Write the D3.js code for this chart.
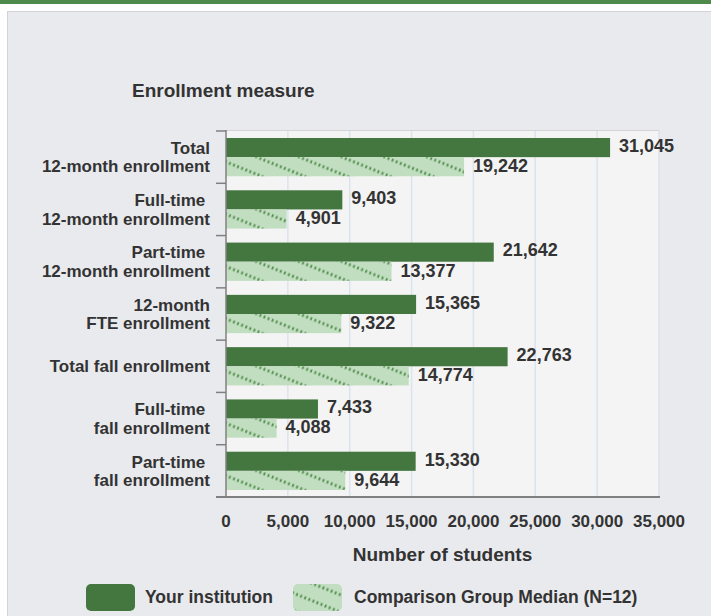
<!DOCTYPE html>
<html>
<meta charset="utf-8">
<head>
  <script src="https://d3js.org/d3.v7.min.js"></script>
  <style>
    body { margin: 0; background: #fff; }
    text { font-family: "Liberation Sans", Arial, sans-serif; font-weight: bold; fill: #333; }
  </style>
</head>
<body>
<script>
  // data
  var categories = [
    ["Total", "12-month enrollment"],
    ["Full-time ", "12-month enrollment"],
    ["Part-time ", "12-month enrollment"],
    ["12-month", "FTE enrollment"],
    ["Total fall enrollment"],
    ["Full-time ", "fall enrollment"],
    ["Part-time ", "fall enrollment"]
  ];
  var institution = [31045, 9403, 21642, 15365, 22763, 7433, 15330];
  var median = [19242, 4901, 13377, 9322, 14774, 4088, 9644];
  var xTicks = [0, 5000, 10000, 15000, 20000, 25000, 30000, 35000];
  var seriesNames = ["Your institution", "Comparison Group Median (N=12)"];

  var W = 711, H = 616;
  var dark = "#43773f", light = "#c2dec1", dots = "#4f8d4b";

  var svg = d3.select("body").append("svg").attr("width", W).attr("height", H);

  var defs = svg.append("defs");
  var pat = defs.append("pattern")
    .attr("id", "hatch")
    .attr("patternUnits", "userSpaceOnUse")
    .attr("width", 22).attr("height", 16)
    .attr("patternTransform", "rotate(22)");
  pat.append("rect").attr("width", 22).attr("height", 16).attr("fill", light);
  pat.append("line")
    .attr("x1", 0).attr("x2", 22).attr("y1", 8).attr("y2", 8)
    .attr("stroke", dots).attr("stroke-width", 2.8)
    .attr("stroke-dasharray", "1.8 2.6");

  // banner and panel
  svg.append("rect").attr("x", 0).attr("y", 0).attr("width", W).attr("height", 4).attr("fill", "#4f8a4c");
  svg.append("rect").attr("x", 7.5).attr("y", 11.5).attr("width", W + 20).attr("height", H + 20)
    .attr("fill", "#e9eaee").attr("stroke", "#d2d3d6");

  var pL = 226, pR = 659, pT = 131, pB = 497;

  var x = d3.scaleLinear().domain([0, 35000]).range([pL, pR]);
  var y = d3.scaleBand().domain(d3.range(categories.length)).range([pT, pB]);
  var y1 = d3.scaleBand().domain([0, 1]).range([7, y.bandwidth() - 7]);

  // plot background
  svg.append("rect").attr("x", pL).attr("y", pT).attr("width", pR - pL).attr("height", pB - pT)
    .attr("fill", "#f4f4f4");
  svg.append("line").attr("x1", pL).attr("x2", pR).attr("y1", pT - 0.5).attr("y2", pT - 0.5)
    .attr("stroke", "#d4d4d4");

  // grid
  svg.append("g").selectAll("line").data(xTicks.slice(1)).join("line")
    .attr("x1", d => x(d)).attr("x2", d => x(d))
    .attr("y1", pT).attr("y2", pB)
    .attr("stroke", "#dbe3ec").attr("stroke-width", 1.5);

  // bars
  var groups = svg.append("g").selectAll("g").data(categories).join("g")
    .attr("transform", (d, i) => "translate(0," + y(i) + ")");

  groups.append("rect")
    .attr("x", x(0)).attr("y", y1(0))
    .attr("width", (d, i) => x(institution[i]) - x(0))
    .attr("height", y1.bandwidth())
    .attr("fill", dark);
  groups.append("rect")
    .attr("x", x(0)).attr("y", y1(1))
    .attr("width", (d, i) => x(median[i]) - x(0))
    .attr("height", y1.bandwidth())
    .attr("fill", "url(#hatch)");

  groups.append("text")
    .attr("x", (d, i) => x(institution[i]) + 9)
    .attr("y", y1(0) + y1.bandwidth() / 2 - 2)
    .attr("dy", "0.35em")
    .style("font-size", "18px")
    .text((d, i) => d3.format(",")(institution[i]));
  groups.append("text")
    .attr("x", (d, i) => x(median[i]) + 9)
    .attr("y", y1(1) + y1.bandwidth() / 2 - 1)
    .attr("dy", "0.35em")
    .style("font-size", "18px")
    .text((d, i) => d3.format(",")(median[i]));

  // category labels
  groups.append("text")
    .attr("text-anchor", "end")
    .attr("x", 210)
    .attr("y", y.bandwidth() / 2)
    .style("font-size", "17px")
    .style("white-space", "pre")
    .each(function(d) {
      var t = d3.select(this);
      var off = -(d.length - 1) * 9.25;
      d.forEach((line, k) => {
        t.append("tspan").attr("x", 210)
          .attr("y", y.bandwidth() / 2 + off + k * 18.5)
          .attr("dy", "0.35em")
          .text(line);
      });
    });

  // axes lines and ticks
  var axisColor = "#808080";
  svg.append("line").attr("x1", pL).attr("x2", pL).attr("y1", pT - 1).attr("y2", pB)
    .attr("stroke", axisColor).attr("stroke-width", 1.5);
  svg.append("line").attr("x1", pL - 10).attr("x2", pR + 1).attr("y1", pB).attr("y2", pB)
    .attr("stroke", axisColor).attr("stroke-width", 2);
  svg.append("g").selectAll("line").data(d3.range(categories.length)).join("line")
    .attr("x1", pL - 10).attr("x2", pL)
    .attr("y1", d => y(d)).attr("y2", d => y(d))
    .attr("stroke", axisColor).attr("stroke-width", 1.5);

  svg.append("g").selectAll("text").data(xTicks).join("text")
    .attr("x", d => x(d)).attr("y", 521).attr("dy", "0.35em")
    .attr("text-anchor", "middle")
    .style("font-size", "17px")
    .text(d => d3.format(",")(d));

  // titles
  svg.append("text").attr("x", 132).attr("y", 90).attr("dy", "0.35em")
    .style("font-size", "19px").text("Enrollment measure");
  svg.append("text").attr("x", (pL + pR) / 2).attr("y", 554).attr("dy", "0.35em")
    .attr("text-anchor", "middle")
    .style("font-size", "19px").text("Number of students");

  // legend
  var legend = [
    { x: 86, fill: dark, tx: 145 },
    { x: 293, fill: "url(#hatch)", tx: 354 }
  ];
  var lg = svg.append("g").selectAll("g").data(legend).join("g");
  lg.append("rect").attr("x", d => d.x).attr("y", 584).attr("width", 49).attr("height", 27)
    .attr("rx", 5).attr("fill", d => d.fill);
  lg.append("text").attr("x", d => d.tx).attr("y", 597).attr("dy", "0.35em")
    .style("font-size", "17.5px").text((d, i) => seriesNames[i]);
</script>
</body>
</html>
